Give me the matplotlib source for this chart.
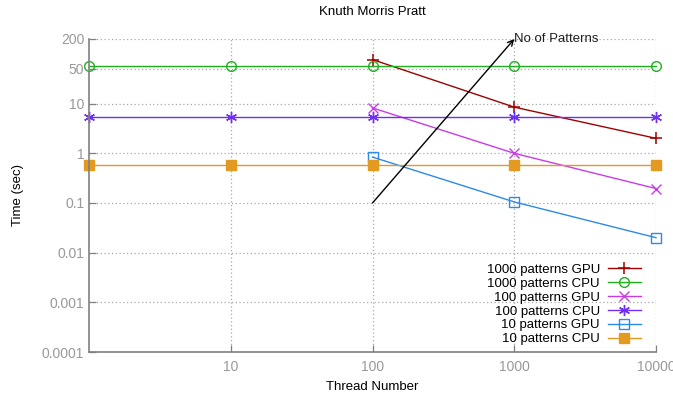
import matplotlib
matplotlib.use("Agg")
import matplotlib.pyplot as plt
from matplotlib.ticker import FixedLocator, FixedFormatter, NullLocator

plt.rcParams['font.family'] = ['Liberation Sans', 'DejaVu Sans']

title = "Knuth Morris Pratt"
xlabel = "Thread Number"
ylabel = "Time (sec)"

cpu_threads = [1, 10, 100, 1000, 10000]
gpu_threads = [100, 1000, 10000]

gpu_1000 = [77, 8.5, 2.0]
cpu_1000 = [56, 56, 56, 56, 56]
gpu_100 = [8.2, 1.0, 0.195]
cpu_100 = [5.4, 5.4, 5.4, 5.4, 5.4]
gpu_10 = [0.84, 0.105, 0.02]
cpu_10 = [0.57, 0.57, 0.57, 0.57, 0.57]

xticks = [10, 100, 1000, 10000]
xticklabels = ["10", "100", "1000", "10000"]
yticks = [0.0001, 0.001, 0.01, 0.1, 1, 10, 50, 200]
yticklabels = ["0.0001", "0.001", "0.01", "0.1", "1", "10", "50", "200"]

arrow_start = (100, 0.1)
arrow_end = (1000, 200)
arrow_label = "No of Patterns"

fig = plt.figure(figsize=(6.73, 3.98), dpi=100)
ax = fig.add_axes([89/673, 46/398, (656-89)/673, (352-39)/398])

ax.set_xscale('log')
ax.set_yscale('log')
ax.set_xlim(1, 10000)
ax.set_ylim(0.0001, 200)

series = [
    (gpu_threads, gpu_1000, "1000 patterns GPU", "#a00000", dict(marker='+', ms=9, mew=1.1)),
    (cpu_threads, cpu_1000, "1000 patterns CPU", "#20b020", dict(marker='o', ms=7, mfc='none', mew=1.0)),
    (gpu_threads, gpu_100, "100 patterns GPU", "#c83ce6", dict(marker='x', ms=7, mew=1.0)),
    (cpu_threads, cpu_100, "100 patterns CPU", "#7030f0", dict(marker=(6, 2, 0), ms=8, mew=1.0)),
    (gpu_threads, gpu_10, "10 patterns GPU", "#2c8ae8", dict(marker='s', ms=7, mfc='none', mew=1.0)),
    (cpu_threads, cpu_10, "10 patterns CPU", "#e39a20", dict(marker='s', ms=7)),
]
for xs, ys, lab, col, mk in series:
    ax.plot(xs, ys, color=col, lw=1.0, label=lab, clip_on=False, **mk)

ax.xaxis.set_major_locator(FixedLocator(xticks))
ax.xaxis.set_major_formatter(FixedFormatter(xticklabels))
ax.xaxis.set_minor_locator(NullLocator())
ax.yaxis.set_major_locator(FixedLocator(yticks))
ax.yaxis.set_major_formatter(FixedFormatter(yticklabels))
ax.yaxis.set_minor_locator(NullLocator())

ax.grid(True, which='major', color='#a8a8a8', linestyle=(0, (1, 2)), lw=0.9)
ax.tick_params(direction='in', length=5, colors='#808080', labelsize=10, labelcolor='#999999', width=0.9)
ax.tick_params(axis='x', pad=6)
for s in ['top', 'right']:
    ax.spines[s].set_visible(False)
for s in ['left', 'bottom']:
    ax.spines[s].set_color('#808080')
    ax.spines[s].set_linewidth(1.2)

ax.annotate("", xy=arrow_end, xytext=arrow_start,
            arrowprops=dict(arrowstyle='->', color='black', lw=1.0, shrinkA=0, shrinkB=0),
            annotation_clip=False)
ax.text(arrow_end[0], arrow_end[1], arrow_label, ha='left', va='center', fontsize=9.5, color='#202020')

ax.set_title(title, fontsize=9.5, pad=17)
ax.set_xlabel(xlabel, fontsize=9.5, labelpad=5)
ax.set_ylabel(ylabel, fontsize=9.5, labelpad=13)

leg = ax.legend(loc='lower right', markerfirst=False, frameon=False, fontsize=9.5,
                handlelength=2.5, labelspacing=0.13, borderaxespad=0.1, handletextpad=0.6,
                bbox_to_anchor=(0.985, 0.0))
for t in leg.get_texts():
    t.set_ha('right')

fig.savefig("out.png", dpi=100)
